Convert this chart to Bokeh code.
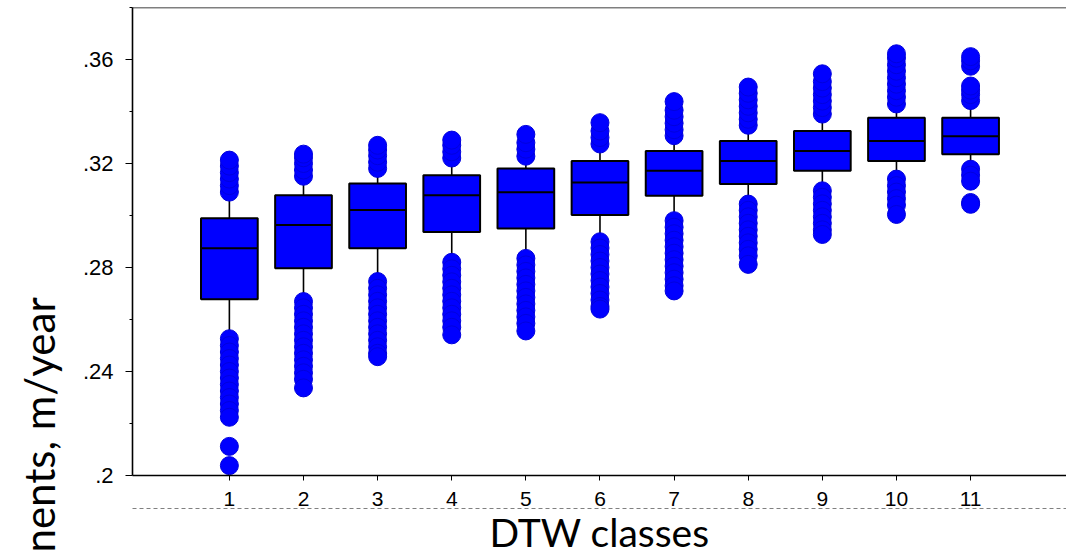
import numpy as np
from bokeh.plotting import figure
from bokeh.models import Range1d, FixedTicker, Span, Title, LinearAxis
from bokeh.embed import file_html
from bokeh.resources import INLINE

# ---- data ----
classes = [1, 2, 3, 4, 5, 6, 7, 8, 9, 10, 11]
q1 = [0.2678, 0.2797, 0.2874, 0.2937, 0.2950, 0.3002, 0.3076, 0.3121, 0.3172, 0.3210, 0.3236]
median = [0.2874, 0.2963, 0.3021, 0.3078, 0.3089, 0.3127, 0.3172, 0.3210, 0.3248, 0.3287, 0.3305]
q3 = [0.2989, 0.3078, 0.3123, 0.3155, 0.3181, 0.3210, 0.3248, 0.3287, 0.3325, 0.3376, 0.3376]
whisker_lo = [0.2545, 0.2690, 0.2765, 0.2840, 0.2855, 0.2920, 0.3000, 0.3065, 0.3115, 0.3160, 0.3195]
whisker_hi = [0.3067, 0.3130, 0.3160, 0.3200, 0.3210, 0.3255, 0.3287, 0.3327, 0.3370, 0.3410, 0.3422]

out1 = [0.3090, 0.3115, 0.3140, 0.3165, 0.3190, 0.3213,
        0.2526, 0.2500, 0.2475, 0.2450, 0.2425, 0.2400, 0.2375, 0.2350, 0.2325, 0.2300, 0.2275,
        0.2250, 0.2224, 0.2112, 0.2038]
out2 = [0.3151, 0.3175, 0.3200, 0.3222, 0.3236,
        0.2669, 0.2645, 0.2620, 0.2595, 0.2570, 0.2545, 0.2520, 0.2495, 0.2470, 0.2445, 0.2420,
        0.2395, 0.2370, 0.2337]
out3 = [0.3181, 0.3205, 0.3230, 0.3252, 0.3270,
        0.2746, 0.2720, 0.2695, 0.2670, 0.2645, 0.2620, 0.2595, 0.2570, 0.2545, 0.2520, 0.2495,
        0.2470, 0.2457]
out4 = [0.3221, 0.3245, 0.3270, 0.3290,
        0.2820, 0.2795, 0.2770, 0.2745, 0.2720, 0.2695, 0.2670, 0.2645, 0.2620, 0.2595, 0.2570,
        0.2541]
out5 = [0.3228, 0.3255, 0.3280, 0.3312,
        0.2835, 0.2810, 0.2785, 0.2760, 0.2735, 0.2710, 0.2685, 0.2660, 0.2635, 0.2610, 0.2585,
        0.2556]
out6 = [0.3275, 0.3300, 0.3325, 0.3357,
        0.2899, 0.2875, 0.2850, 0.2825, 0.2800, 0.2775, 0.2750, 0.2725, 0.2700, 0.2675, 0.2650,
        0.2640]
out7 = [0.3307, 0.3330, 0.3355, 0.3380, 0.3405, 0.3438,
        0.2980, 0.2955, 0.2930, 0.2905, 0.2880, 0.2855, 0.2830, 0.2805, 0.2780, 0.2755, 0.2730,
        0.2710]
out8 = [0.3347, 0.3370, 0.3395, 0.3420, 0.3445, 0.3470, 0.3494,
        0.3044, 0.3020, 0.2995, 0.2970, 0.2945, 0.2920, 0.2895, 0.2870, 0.2845, 0.2812]
out9 = [0.3390, 0.3415, 0.3440, 0.3465, 0.3490, 0.3515, 0.3545,
        0.3095, 0.3070, 0.3045, 0.3020, 0.2995, 0.2970, 0.2945, 0.2927]
out10 = [0.3429, 0.3455, 0.3480, 0.3505, 0.3530, 0.3555, 0.3580, 0.3605, 0.3622,
         0.3140, 0.3115, 0.3090, 0.3065, 0.3040, 0.3004]
out11 = [0.3442, 0.3465, 0.3482, 0.3498, 0.3574, 0.3595, 0.3611,
         0.3178, 0.3155, 0.3132, 0.3050, 0.3043]
outliers = [out1, out2, out3, out4, out5, out6, out7, out8, out9, out10, out11]

y_ticks = [0.2, 0.24, 0.28, 0.32, 0.36]
y_tick_labels = [".2", ".24", ".28", ".32", ".36"]
y_minor = [0.22, 0.26, 0.30, 0.34, 0.38]
x_title = "DTW classes"
y_title = "nents, m/year"

# ---- figure ----
BLUE = "#0000FF"
box_w = 0.765
y_end = 0.38

p = figure(width=1066, height=557, output_backend="svg", toolbar_location=None,
           x_range=Range1d(-0.307, 12.294), y_range=Range1d(0.2, y_end),
           min_border_left=131, min_border_right=0, min_border_top=7, min_border_bottom=81,
           background_fill_color="white", border_fill_color="white")
p.outline_line_color = None
p.xgrid.visible = False
p.ygrid.visible = False

cls = np.array(classes, dtype=float)
# whiskers
p.segment(x0=cls, y0=q3, x1=cls, y1=whisker_hi, line_color="black", line_width=1.6)
p.segment(x0=cls, y0=q1, x1=cls, y1=whisker_lo, line_color="black", line_width=1.6)
# boxes
p.vbar(x=cls, width=box_w, bottom=q1, top=q3, fill_color=BLUE, line_color="black", line_width=2)
p.segment(x0=cls - box_w / 2, y0=median, x1=cls + box_w / 2, y1=median,
          line_color="black", line_width=2)
# outliers
ox = [c for c, vals in zip(classes, outliers) for _ in vals]
oy = [v for vals in outliers for v in vals]
p.scatter(x=ox, y=oy, size=18, marker="circle", fill_color=BLUE, line_color="#0000DD", line_width=1)

# top frame line
p.add_layout(Span(location=y_end, dimension="width", line_color="black", line_width=1.6))

# main x axis: ticks + tick labels
xa = p.xaxis[0]
xa.ticker = FixedTicker(ticks=classes, minor_ticks=[])
xa.axis_line_color = "black"
xa.axis_line_width = 1.6
xa.major_tick_out = 5
xa.major_tick_in = 0
xa.minor_tick_line_color = None
xa.major_label_standoff = 11
xa.major_label_text_font = "Liberation Sans"
xa.major_label_text_font_size = "21px"
xa.major_label_text_color = "black"

# second axis below: dotted page-break line + axis title
xb = LinearAxis(ticker=FixedTicker(ticks=[], minor_ticks=[]), axis_label=x_title)
xb.axis_line_color = "#808080"
xb.axis_line_width = 1
xb.axis_line_dash = "4 3"
xb.major_tick_out = 0
xb.major_tick_in = 0
xb.minor_tick_out = 0
xb.minor_tick_in = 0
xb.major_tick_line_color = None
xb.minor_tick_line_color = None
xb.major_label_text_color = None
xb.axis_label_standoff = 0
xb.axis_label_text_font = "Lato"
xb.axis_label_text_font_size = "39px"
xb.axis_label_text_font_style = "normal"
xb.axis_label_text_color = "black"
p.add_layout(xb, "below")

ya = p.yaxis[0]
ya.ticker = FixedTicker(ticks=y_ticks, minor_ticks=y_minor)
ya.major_label_overrides = dict(zip(y_ticks, y_tick_labels))
ya.axis_line_color = "black"
ya.axis_line_width = 1.6
ya.major_tick_out = 7
ya.major_tick_in = 0
ya.minor_tick_out = 3
ya.minor_tick_in = 0
ya.major_label_standoff = 12
ya.major_label_text_font = "Liberation Sans"
ya.major_label_text_font_size = "22px"
ya.major_label_text_color = "black"

# y title (partly visible in the reference)
p.add_layout(Title(text=y_title, align="left", offset=-77, vertical_align="top",
                   standoff=27, text_font="Lato", text_font_size="42px",
                   text_font_style="normal", text_color="black"), "left")

open("out.html", "w").write(file_html(p, INLINE))
